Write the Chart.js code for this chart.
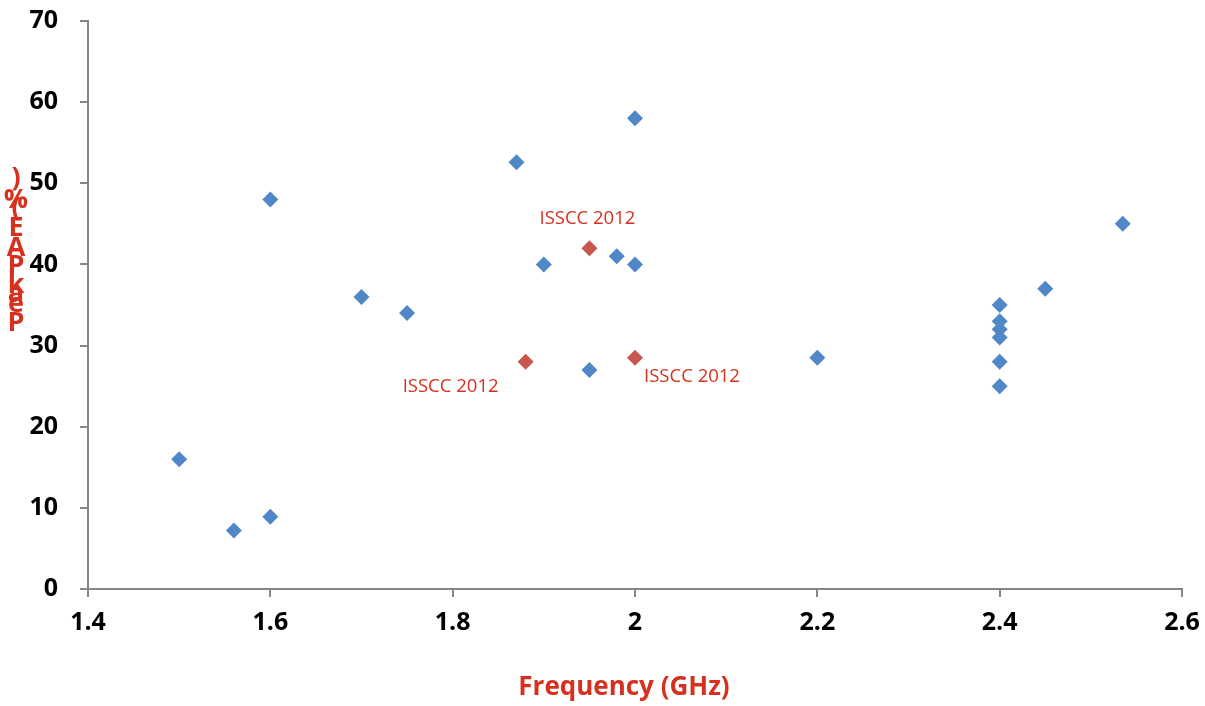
<!DOCTYPE html>
<html>
<head>
<meta charset="utf-8">
<script src="https://cdn.jsdelivr.net/npm/chart.js@4.4.1/dist/chart.umd.min.js"></script>
<style>
  html, body { margin: 0; padding: 0; background: #fff; }
  #wrap { width: 1205px; height: 706px; }
</style>
</head>
<body>
<div id="wrap"><canvas id="paeChart" width="1205" height="706"></canvas></div>
<script>
// published PA results (GHz, peak PAE %)
const freqGHz = [1.5, 1.56, 1.6, 1.6, 1.7, 1.75, 1.87, 1.9, 1.95, 1.98, 2.0, 2.0, 2.2,
                 2.4, 2.4, 2.4, 2.4, 2.4, 2.4, 2.45, 2.535];
const paePct  = [16, 7.2, 8.9, 48, 36, 34, 52.6, 40, 27, 41, 40, 58, 28.5,
                 35, 33, 32, 31, 28, 25, 37, 45];

// ISSCC 2012 points
const isscFreq   = [1.95, 1.88, 2.0];
const isscPae    = [42, 28, 28.5];
const isscLabels = ['ISSCC 2012', 'ISSCC 2012', 'ISSCC 2012'];

const xTicks = [1.4, 1.6, 1.8, 2.0, 2.2, 2.4, 2.6];
const yTicks = [0, 10, 20, 30, 40, 50, 60, 70];

const xTitle = 'Frequency (GHz)';
const yTitle = 'Peak PAE (%)';

const titleRed = '#D7301F';
const axisGrey = '#868686';

const toPoints = (xs, ys) => xs.map((x, i) => ({ x: x, y: ys[i] }));

// label offsets next to each ISSCC marker
const labelOffsets = [[-2, -29], [-75, 25], [57, 19]];

const annotatePlugin = {
  id: 'annotate',
  afterDatasetsDraw(chart) {
    const ctx = chart.ctx;
    const xs = chart.scales.x, ys = chart.scales.y;
    ctx.save();
    ctx.font = '18.5px "Open Sans", sans-serif';
    ctx.fillStyle = titleRed;
    ctx.textAlign = 'center';
    ctx.textBaseline = 'middle';
    isscLabels.forEach((lbl, i) => {
      const px = xs.getPixelForValue(isscFreq[i]);
      const py = ys.getPixelForValue(isscPae[i]);
      ctx.fillText(lbl, px + labelOffsets[i][0], py + labelOffsets[i][1]);
    });

    // x axis title
    ctx.textBaseline = 'alphabetic';
    ctx.font = 'bold 26px "Open Sans", sans-serif';
    ctx.fillText(xTitle, 624, 695);

    // y axis title - stacked letters, bottom to top, the way the original renders it
    const chars = yTitle.replace(/ /g, '').split('');
    const baselines = [331, 312, 302, 293, 274, 256, 236, 216, 208, 186];
    ctx.font = 'bold 27px "Open Sans", sans-serif';
    chars.forEach((c, i) => {
      ctx.fillText(c, 16, baselines[i]);
    });
    ctx.restore();
  }
};

const tickFont = { family: '"Open Sans", sans-serif', size: 25, weight: 'bold' };

new Chart(document.getElementById('paeChart').getContext('2d'), {
  type: 'scatter',
  data: {
    datasets: [
      {
        label: 'Published',
        data: toPoints(freqGHz, paePct),
        pointStyle: 'rectRot',
        pointRadius: 8,
        pointHoverRadius: 8,
        backgroundColor: '#5087C7',
        borderColor: '#5087C7',
        borderWidth: 0
      },
      {
        label: 'ISSCC 2012',
        data: toPoints(isscFreq, isscPae),
        pointStyle: 'rectRot',
        pointRadius: 8,
        pointHoverRadius: 8,
        backgroundColor: '#C9564F',
        borderColor: '#C9564F',
        borderWidth: 0
      }
    ]
  },
  options: {
    responsive: false,
    animation: false,
    layout: { padding: { left: 0, top: 21, right: 23, bottom: 0 } },
    plugins: {
      legend: { display: false },
      tooltip: { enabled: false }
    },
    scales: {
      x: {
        type: 'linear',
        min: 1.4,
        max: 2.6,
        afterBuildTicks: (s) => { s.ticks = xTicks.map(v => ({ value: v })); },
        afterFit: (s) => { s.height = 117; s.paddingLeft = 0; s.paddingRight = 0; },
        border: { color: axisGrey, width: 2 },
        grid: { drawOnChartArea: false, color: axisGrey, lineWidth: 2, tickLength: 8 },
        ticks: { color: '#000', font: tickFont, padding: 11, maxRotation: 0, callback: (v) => String(v) }
      },
      y: {
        type: 'linear',
        min: 0,
        max: 70,
        afterBuildTicks: (s) => { s.ticks = yTicks.map(v => ({ value: v })); },
        afterFit: (s) => { s.width = 88; s.paddingTop = 0; s.paddingBottom = 0; },
        border: { color: axisGrey, width: 2 },
        grid: { drawOnChartArea: false, color: axisGrey, lineWidth: 2, tickLength: 8 },
        ticks: { color: '#000', font: tickFont, padding: 22 }
      }
    }
  },
  plugins: [annotatePlugin]
});
</script>
</body>
</html>
